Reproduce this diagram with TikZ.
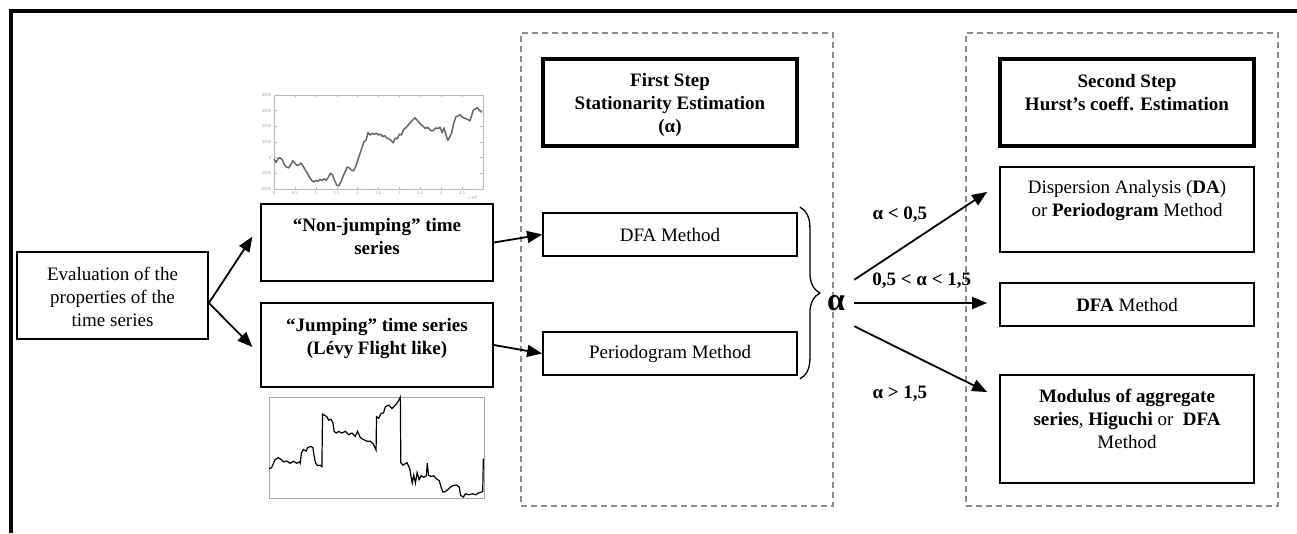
\documentclass[tikz,border=0pt]{standalone}
\usepackage{fontspec}
\setmainfont{Liberation Serif}
\usepackage{tikz}
\usetikzlibrary{positioning,arrows.meta,decorations.pathreplacing}
\newcommand{\boxfont}{\fontsize{19}{23}\selectfont}
\newcommand{\tickfont}{\fontsize{4.5}{5}\selectfont}
\newcommand{\boxtext}[2][0pt]{\raisebox{#1}[\height][\depth]{\begin{tabular}{@{}c@{}}#2\end{tabular}}}

\begin{document}
\begin{tikzpicture}[x=1pt, y=-1pt, >={Triangle[length=15pt, width=12pt]},
  box/.style={draw, line width=1.8pt, inner sep=0pt, font=\boxfont, minimum width=#1},
  box/.default=254pt,
  stepbox/.style={box, line width=3.5pt, minimum height=87pt, font=\boxfont\bfseries},
  group/.style={draw=gray!90, line width=1.5pt, dash pattern=on 6pt off 4pt,
    minimum width=312pt, minimum height=473pt},
  arr/.style={->, line width=1.8pt},
  lab/.style={font=\boxfont\bfseries, inner sep=0pt},
  ticklab/.style={font=\tickfont, text=gray!80, inner sep=0.5pt}]
  \useasboundingbox (0,0) rectangle (1297,533);
  \draw[line width=4pt] (10.5,533) -- (10.5,10.5) -- (1297,10.5);

  % the two steps
  \node[group] (grp1) at (677,269.5) {};
  \node[group] (grp2) at (1122,269.5) {};

  \node[box=191pt, minimum height=87pt] (ev) at (112.5,295.5)
    {\boxtext[-3.5pt]{Evaluation of the\\properties of the\\time series}};
  \node[box=232pt, minimum height=77pt, font=\boxfont\bfseries] (nj) at (377,242.5)
    {\boxtext[4pt]{“Non-jumping” time\\series}};
  \node[box=232pt, minimum height=84pt, font=\boxfont\bfseries] (jp) at (377,345)
    {\boxtext[6.5pt]{“Jumping” time series\\(Lévy Flight like)}};

  \node[stepbox] (st1) at (670,102.5)
    {\boxtext[-2.5pt]{First Step\\Stationarity Estimation\\(α)}};
  \node[box, minimum height=43pt] (dfa1) at (670,234.5) {DFA Method};
  \node[box, minimum height=43pt] (per1) at (670,353.5) {Periodogram Method};

  \node[stepbox] (st2) at (1127,102.5)
    {\boxtext[8.5pt]{Second Step\\Hurst’s coeff. Estimation}};
  \node[box, minimum height=85pt] (da) at (1127,209.5)
    {\boxtext[9pt]{Dispersion Analysis (\textbf{DA})\\or \textbf{Periodogram} Method}};
  \node[box, minimum height=43pt] (dfa2) at (1127,304.5) {\textbf{DFA} Method};
  \node[box, minimum height=108pt] (mod) at (1127,429)
    {\boxtext[8pt]{\textbf{Modulus of aggregate}\\\textbf{series}, \textbf{Higuchi} or \ \textbf{DFA}\\Method}};

  \draw[decorate, decoration={brace, amplitude=20pt}, line width=1.3pt]
    ([xshift=2pt, yshift=5pt]dfa1.north east) -- ([xshift=2pt, yshift=-3pt]per1.south east);
  \node[font=\fontsize{32}{32}\selectfont\bfseries, minimum width=36pt, minimum height=46pt,
    inner sep=0pt] (al) at (836,303) {α};

  \draw[arr, shorten >=14pt] ([yshift=-7.5pt]ev.east) -- ([yshift=17.5pt]nj.west);
  \draw[arr, shorten >=11pt] ([yshift=-7.5pt]ev.east) -- ([yshift=-9.8pt]jp.west);
  \draw[arr] (nj.east) -- (dfa1.west);
  \draw[arr] (jp.east) -- (per1.west);

  \draw[arr, shorten >=14.4pt] (al.north east) -- ([yshift=25.5pt]da.west)
    node[lab, pos=0.315, above=26pt] {α < 0,5};
  \draw[arr, shorten >=12pt] (al.east) -- (al.east -| dfa2.west)
    node[lab, pos=0.466, above=13.5pt] {0,5 < α < 1,5};
  \draw[arr, shorten >=13.4pt] (al.south east) -- ([yshift=31pt]mod.west)
    node[lab, pos=0.315, below=36.5pt] {α > 1,5};

  % non-jumping sample
  \begin{scope}[shift={(274,189)}, x=41.8pt, y=15.67pt]
    \draw[gray!55, line width=0.6pt] (0,0) rectangle (5,6);
    \foreach \t in {0.5,1,...,4.5}
      \draw[gray!55, line width=0.4pt] (\t,0) -- (\t,0.15) (\t,6) -- (\t,5.85);
    \foreach \v in {1,...,5}
      \draw[gray!55, line width=0.4pt] (0,\v) -- (0.06,\v) (5,\v) -- (4.94,\v);
    \foreach \v/\l in {0/-2000,1/-1000,2/0,3/1000,4/2000,5/3000,6/4000}
      \node[ticklab, anchor=east] at (-0.05,\v) {\l};
    \foreach \t in {0,0.5,1,1.5,2,2.5,3,3.5,4,4.5}
      \node[ticklab, anchor=north] at (\t,-0.1) {\t};
    \node[ticklab] at (4.76,-0.51) {x 10\textsuperscript{4}};
    \begin{scope}[shift={(0,2)}]
      \draw[gray!80!black, line width=1.5pt, line join=round] plot coordinates {
        (0,-0.1) (0.05,-0.3) (0.1,-0.05) (0.15,0.0) (0.2,-0.15) (0.25,-0.45) (0.3,-0.6)
        (0.35,-0.65) (0.4,-0.45) (0.45,-0.2) (0.5,-0.35) (0.55,-0.5) (0.6,-0.45) (0.65,-0.35)
        (0.7,-0.55) (0.75,-0.8) (0.8,-1.0) (0.85,-1.25) (0.9,-1.45) (0.95,-1.55) (1.0,-1.45)
        (1.05,-1.5) (1.1,-1.4) (1.15,-1.45) (1.2,-1.35) (1.25,-1.45) (1.3,-1.25) (1.35,-1.0)
        (1.4,-1.1) (1.45,-1.45) (1.5,-1.75) (1.55,-1.8) (1.6,-1.55) (1.65,-1.2) (1.7,-0.9)
        (1.75,-0.6) (1.8,-0.65) (1.85,-0.8) (1.9,-0.85) (1.95,-0.6) (2.0,-0.2) (2.05,0.2)
        (2.1,0.6) (2.15,1.0) (2.2,1.1) (2.25,1.6) (2.3,1.45) (2.35,1.55) (2.4,1.5) (2.45,1.55)
        (2.5,1.45) (2.55,1.5) (2.6,1.35) (2.65,1.4) (2.7,1.25) (2.75,1.2) (2.8,1.1) (2.85,0.95)
        (2.9,1.25) (2.95,1.2) (3.0,1.5) (3.05,1.45) (3.1,1.8) (3.15,1.9) (3.2,2.05) (3.25,2.2)
        (3.3,2.35) (3.37,2.55) (3.42,2.4) (3.47,2.25) (3.52,2.1) (3.57,2.0) (3.62,1.85)
        (3.67,1.95) (3.72,1.8) (3.77,1.7) (3.82,1.75) (3.87,1.9) (3.92,1.85) (3.97,1.95)
        (4.02,1.6) (4.07,1.9) (4.12,1.4) (4.16,1.1) (4.2,1.3) (4.25,1.6) (4.3,2.2) (4.35,2.6)
        (4.4,2.65) (4.45,2.75) (4.5,2.6) (4.57,2.5) (4.63,2.45) (4.69,2.35) (4.73,2.7)
        (4.77,3.05) (4.82,3.1) (4.86,3.2) (4.92,3.0) (4.97,2.9)};
    \end{scope}
  \end{scope}

  % jumping sample
  \begin{scope}[shift={(269,498)}, x=215pt, y=101pt]
    \draw[gray!70, line width=0.8pt] (0,0) rectangle (1,1);
    \draw[line width=1.2pt] plot coordinates {
      (0,0.29) (0.012,0.30) (0.028,0.38) (0.044,0.40) (0.059,0.375) (0.07,0.357) (0.082,0.367)
      (0.098,0.344) (0.114,0.364) (0.129,0.344) (0.142,0.357) (0.145,0.344) (0.151,0.448)
      (0.16,0.48) (0.173,0.464) (0.18,0.5) (0.194,0.51) (0.204,0.5) (0.21,0.415) (0.216,0.35)
      (0.226,0.32) (0.238,0.325) (0.246,0.31) (0.249,0.83) (0.258,0.82) (0.269,0.805)
      (0.277,0.77) (0.288,0.78) (0.297,0.747) (0.303,0.66) (0.313,0.643) (0.323,0.66)
      (0.339,0.643) (0.355,0.66) (0.37,0.627) (0.386,0.643) (0.401,0.61) (0.412,0.66)
      (0.425,0.597) (0.44,0.578) (0.456,0.562) (0.471,0.562) (0.484,0.539) (0.49,0.513)
      (0.498,0.474) (0.5,0.805) (0.51,0.79) (0.521,0.838) (0.533,0.844) (0.541,0.903)
      (0.557,0.92) (0.572,0.886) (0.588,0.92) (0.599,0.95) (0.611,1.0) (0.613,0.35)
      (0.623,0.325) (0.642,0.35) (0.655,0.286) (0.666,0.149) (0.673,0.227) (0.681,0.149)
      (0.689,0.25) (0.698,0.182) (0.708,0.22) (0.72,0.205) (0.732,0.22) (0.736,0.344)
      (0.742,0.227) (0.754,0.214) (0.767,0.22) (0.779,0.188) (0.792,0.172) (0.798,0.123)
      (0.809,0.058) (0.821,0.065) (0.832,0.084) (0.843,0.107) (0.856,0.123) (0.872,0.13)
      (0.885,0.107) (0.891,0.026) (0.904,0.01) (0.914,0.042) (0.93,0.032) (0.946,0.042)
      (0.961,0.032) (0.977,0.052) (0.988,0.058) (0.994,0.065) (0.997,0.39)};
  \end{scope}
\end{tikzpicture}
\end{document}
